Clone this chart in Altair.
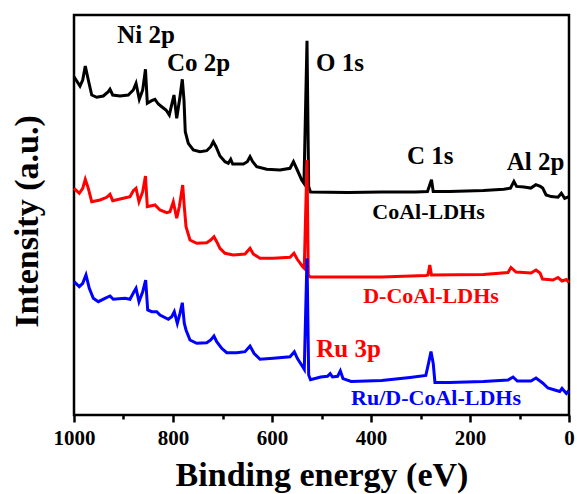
import altair as alt
import pandas as pd

# ---- data (binding energy in eV, intensity in arbitrary units) ----
e_black = [1000, 987.9, 982.4, 977.2, 971.1, 964.2, 954.1, 940.8, 930.7, 927.3, 921.8, 907.1, 890.3, 880.2,
           874.7, 868.1, 861.2, 855.6, 851.9, 843.0, 836.4, 829.7, 822.8, 814.1, 807.5, 802.0, 798.0, 792.5,
           785.9, 781.2, 777.8, 775.2, 769.1, 759.0, 745.5, 731.9, 723.8, 718.6, 713.1, 705.1, 694.9, 688.3,
           683.4, 679.4, 657.8, 649.9, 644.4, 639.0, 630.9, 610.7, 583.8, 563.6, 556.6, 548.9, 540.0, 535.4,
           529.3, 525.9, 522.2, 446.9, 378.4, 309.9, 285.9, 281.2, 277.8, 274.3, 241.4, 172.9, 131.9, 118.2,
           111.3, 105.9, 90.9, 77.2, 66.9, 58.0, 53.1, 46.3, 35.9, 22.2, 15.4, 8.7, 0]
i_black = [338.3, 329, 335, 349, 335, 320, 317.7, 319, 323.3, 325.7, 320, 319, 320, 325,
           331.7, 315.7, 325, 345.7, 311.7, 314.3, 315.7, 311, 308.3, 305, 300, 311.7, 320, 296.7,
           318.3, 335.7, 315, 283.3, 271.7, 265, 263.3, 264.3, 268.3, 273.3, 268.3, 259, 253.3, 251.7,
           255.7, 251, 251, 253.3, 258.3, 253.3, 248.3, 245.7, 245, 246.7, 253.3, 245, 235, 231.7,
           374.3, 228.3, 223, 222.5, 223.1, 223.1, 223.5, 230.3, 235.3, 223.5, 223.5, 224.5, 225.8, 226.9,
           233.6, 228.6, 227.9, 226.9, 230.3, 228.6, 226.9, 220.1, 218.4, 217.7, 221.8, 216.7, 218.4]

e_red = [1000, 989.3, 982.4, 977.2, 971.1, 964.2, 947.5, 933.9, 927.3, 921.8, 900.4, 886.9, 880.2, 874.7,
         868.7, 861.2, 855.6, 851.9, 836.4, 826.3, 812.7, 806.1, 799.4, 792.5, 787.3, 780.4, 777.2, 773.7,
         765.7, 752.1, 731.9, 723.8, 717.2, 711.7, 705.1, 694.9, 678.2, 654.5, 644.4, 637.8, 624.2, 597.4,
         563.6, 555.6, 548.9, 538.0, 534.8, 529.3, 526.7, 522.2, 378.4, 289.3, 284.9, 281.2, 277.8, 172.9,
         123.2, 117.2, 107.1, 76.8, 66.7, 58.6, 53.5, 32.3, 22.2, 14.1, 5.1, 0]
i_red = [226.7, 221.7, 226.7, 235.7, 226.7, 213.3, 215, 217.7, 220.7, 214.3, 216.7, 218.3, 224.3, 226.7,
         213.3, 223.3, 239, 208.3, 210, 205, 202.3, 203.3, 213.3, 196.7, 208.3, 230, 208.3, 188.3,
         175, 171.7, 172.3, 175, 178.3, 173.3, 166.7, 161.7, 160, 161, 166.7, 161, 156.7, 156.7,
         157.7, 161.7, 155.7, 148.3, 146.7, 255, 140, 138, 138, 139.5, 140, 150, 140, 140.4,
         142.5, 147.5, 143, 142, 145, 142, 136, 135, 137.5, 134, 135.5, 132.5]

e_blue = [1000, 989.3, 982.4, 975.8, 969.1, 961.0, 950.9, 937.4, 927.3, 920.6, 897.0, 886.9, 878.8, 874.7,
          868.7, 861.2, 855.2, 851.1, 843.0, 832.9, 826.3, 809.5, 802.6, 797.4, 791.3, 785.9, 781.2, 777.2,
          773.7, 765.7, 752.1, 731.9, 723.8, 717.2, 711.7, 701.6, 691.5, 671.3, 654.5, 644.4, 636.4, 624.2,
          597.4, 563.6, 554.9, 548.9, 538.0, 534.8, 529.3, 525.9, 522.2, 501.6, 487.9, 482.4, 477.8, 467.5,
          462.0, 456.6, 440.0, 378.4, 321.2, 289.3, 283.8, 278.8, 274.3, 270.8, 241.4, 172.9, 123.2, 113.1,
          104.4, 76.8, 66.7, 53.3, 42.6, 28.9, 18.7, 14.1, 5.3, 0]
i_blue = [133.3, 128.3, 131.7, 140, 126.7, 116.7, 113.3, 116.7, 119, 115.7, 116.7, 115.7, 123.3, 126.7,
          113.3, 123.3, 135, 105, 103.3, 103.3, 100, 95.7, 98.3, 103.3, 91.7, 101.7, 112.3, 91.7,
          85, 75, 71.7, 72.3, 75, 79, 73.3, 66.7, 62.3, 62.3, 63.3, 69, 61.7, 55.7,
          56.7, 58.3, 63.3, 56.7, 48.3, 45.7, 156.7, 40, 35.3, 38, 38.7, 41.4, 38, 38.7,
          44.2, 36.4, 33.5, 34.5, 37.5, 39.5, 51.6, 63.5, 51.6, 32.5, 32.5, 33.5, 35, 38,
          34, 34, 37, 32, 27, 25, 23.5, 26.5, 21.5, 24.5]

# axis ticks
major_ticks = [0, 200, 400, 600, 800, 1000]
minor_ticks = [100, 300, 500, 700, 900]

# annotation labels
ann_text = ["Ni 2p", "Co 2p", "O 1s", "C 1s", "Al 2p", "CoAl-LDHs", "D-CoAl-LDHs", "Ru 3p", "Ru/D-CoAl-LDHs"]
ann_energy = [854.5, 748.5, 462.6, 280.2, 67.7, 283.8, 278.8, 445.3, 268.7]
ann_int = [372, 344, 344, 251, 245.5, 196, 112.3, 58.4, 10]
ann_color = ["#000000", "#000000", "#000000", "#000000", "#000000", "#000000", "#FF0000", "#FF0000", "#0000FF"]
ann_size = [25, 25, 25, 25, 25, 22, 22, 25, 22]

FONT = "Liberation Serif"

def series_df(e, i):
    return pd.DataFrame({"E": e, "I": i, "idx": range(len(e))})

x_scale = alt.Scale(domain=[0, 1000], reverse=True, nice=False)
y_scale = alt.Scale(domain=[0, 400], nice=False)

major_axis = alt.Axis(
    orient="bottom",
    values=major_ticks,
    format="d",
    labelOverlap=False,
    tickSize=7,
    tickWidth=2.5,
    tickColor="black",
    domain=False,
    grid=False,
    labelFont=FONT,
    labelFontWeight="bold",
    labelFontSize=21,
    labelColor="black",
    labelPadding=5,
    labelFlush=False,
    title="Binding energy (eV)",
    titleFont=FONT,
    titleFontWeight="bold",
    titleFontSize=34,
    titleColor="black",
    titleBaseline="alphabetic",
    titleY=70,
)
minor_axis = alt.Axis(
    orient="bottom",
    values=minor_ticks,
    labels=False,
    tickSize=4,
    tickWidth=2.5,
    tickColor="black",
    domain=False,
    grid=False,
    title="",
)

y_axis = alt.Axis(
    labels=False, ticks=False, domain=False, grid=False,
    title="Intensity (a.u.)",
    titleFont=FONT, titleFontWeight="bold", titleFontSize=34, titleColor="black",
    titleAngle=270, titleBaseline="alphabetic", titleAlign="center",
    titleX=-37, titleY=206,
)

def line(e, i, color, xaxis, yaxis):
    return alt.Chart(series_df(e, i)).mark_line(color=color, strokeWidth=3).encode(
        x=alt.X("E:Q", scale=x_scale, axis=xaxis),
        y=alt.Y("I:Q", scale=y_scale, axis=yaxis),
        order="idx:Q",
    )

ann_df = pd.DataFrame({"t": ann_text, "E": ann_energy, "I": ann_int, "c": ann_color, "s": ann_size})
ann = alt.Chart(ann_df).mark_text(font=FONT, fontWeight="bold", align="center", baseline="alphabetic").encode(
    x=alt.X("E:Q", scale=x_scale, axis=minor_axis),
    y=alt.Y("I:Q", scale=y_scale, axis=None),
    text="t:N",
    color=alt.Color("c:N", scale=None), size=alt.Size("s:Q", scale=None),
)

chart = alt.layer(
    line(e_black, i_black, "#000000", major_axis, y_axis),
    line(e_red, i_red, "#FF0000", None, None),
    line(e_blue, i_blue, "#0000FF", None, None),
    ann,
).resolve_axis(x="independent", y="independent").properties(
    width=495, height=400,
    autosize=alt.AutoSizeParams(type="none"),
    padding={"left": 74, "top": 15, "right": 8, "bottom": 79},
    background="white",
).configure_view(stroke="black", strokeWidth=2.5)

chart.save("out.html", embed_options={"renderer": "svg", "actions": False})
